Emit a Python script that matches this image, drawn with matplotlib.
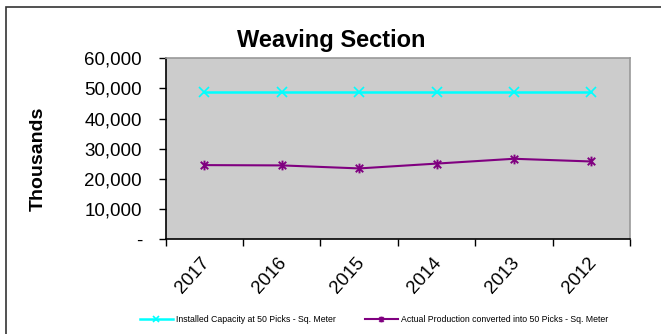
import matplotlib
matplotlib.use("Agg")
import matplotlib.pyplot as plt
from matplotlib.path import Path
from matplotlib.patches import Rectangle
from matplotlib.ticker import FuncFormatter
from matplotlib.transforms import ScaledTranslation
import numpy as np

plt.rcParams['font.family'] = ['Liberation Sans', 'DejaVu Sans']

years = ["2017", "2016", "2015", "2014", "2013", "2012"]
capacity = [48700, 48700, 48700, 48700, 48700, 48700]
production = [24600, 24500, 23500, 25100, 26700, 25800]
series_names = ["Installed Capacity at 50 Picks - Sq. Meter",
                "Actual Production converted into 50 Picks - Sq. Meter"]

fig = plt.figure(figsize=(6.61, 3.34), dpi=100)
fig.patch.set_facecolor('white')
# outer border
fig.patches.append(Rectangle((6/661, -0.05), 1.2, 1 - 7/334 + 0.05, transform=fig.transFigure,
                             fill=False, edgecolor='#333333', linewidth=1.2, zorder=0))

ax = fig.add_axes([0.2507, 0.2835, 0.953 - 0.2507, 0.8254 - 0.2835])
ax.set_facecolor('#cccccc')

x = np.arange(len(years)) + 0.5

star_verts = [(-1, -1), (1, 1), (-1, 1), (1, -1), (0, -1.3), (0, 1.3)]
star_codes = [Path.MOVETO, Path.LINETO, Path.MOVETO, Path.LINETO, Path.MOVETO, Path.LINETO]
star = Path(star_verts, star_codes)

ax.plot(x, capacity, color='#00ffff', linewidth=1.8, marker='x', markersize=7,
        markeredgewidth=1.2, label=series_names[0])
ax.plot(x, production, color='#800080', linewidth=1.5, marker=star, markersize=7,
        markeredgewidth=1.4, label=series_names[1])

ax.set_xlim(0, len(years))
ax.set_ylim(0, 60000)
ax.set_yticks(np.arange(0, 60001, 10000))
ax.yaxis.set_major_formatter(FuncFormatter(lambda v, p: '-' if v == 0 else f"{int(v):,}"))
ax.set_xticks(np.arange(0, len(years) + 1))
ax.set_xticklabels([])
ax.set_xticks(x, minor=True)
ax.set_xticklabels(years, minor=True, rotation=48, ha='right', va='top',
                   rotation_mode='anchor', fontsize=13.5)
ax.tick_params(axis='x', which='minor', length=0, pad=11)
ax.tick_params(axis='x', which='major', length=5, width=1, direction='out')
ax.tick_params(axis='y', length=5, width=1, direction='out', labelsize=13.5, pad=12)
for lab in ax.get_xticklabels(minor=True):
    lab.set_transform(lab.get_transform() + ScaledTranslation(-4/100, 0, fig.dpi_scale_trans))

for s in ['left', 'bottom']:
    ax.spines[s].set_color('black')
    ax.spines[s].set_linewidth(1.2)
for s in ['top', 'right']:
    ax.spines[s].set_color('#999999')
    ax.spines[s].set_linewidth(1.2)

fig.text(38/661, 1 - 158.5/334, 'Thousands', rotation=90, ha='center', va='center',
         fontsize=14, fontweight='bold')
fig.text(331/661, 1 - 40/334, 'Weaving Section', ha='center', va='center',
         fontsize=17, fontweight='bold')

leg = fig.legend(loc='center', bbox_to_anchor=(374/661, 1 - 320/334), ncol=2, frameon=False,
                 fontsize=6.3, handlelength=3.7, columnspacing=3.4, handletextpad=0.35,
                 markerscale=0.6)

fig.savefig('out.png', dpi=100)
